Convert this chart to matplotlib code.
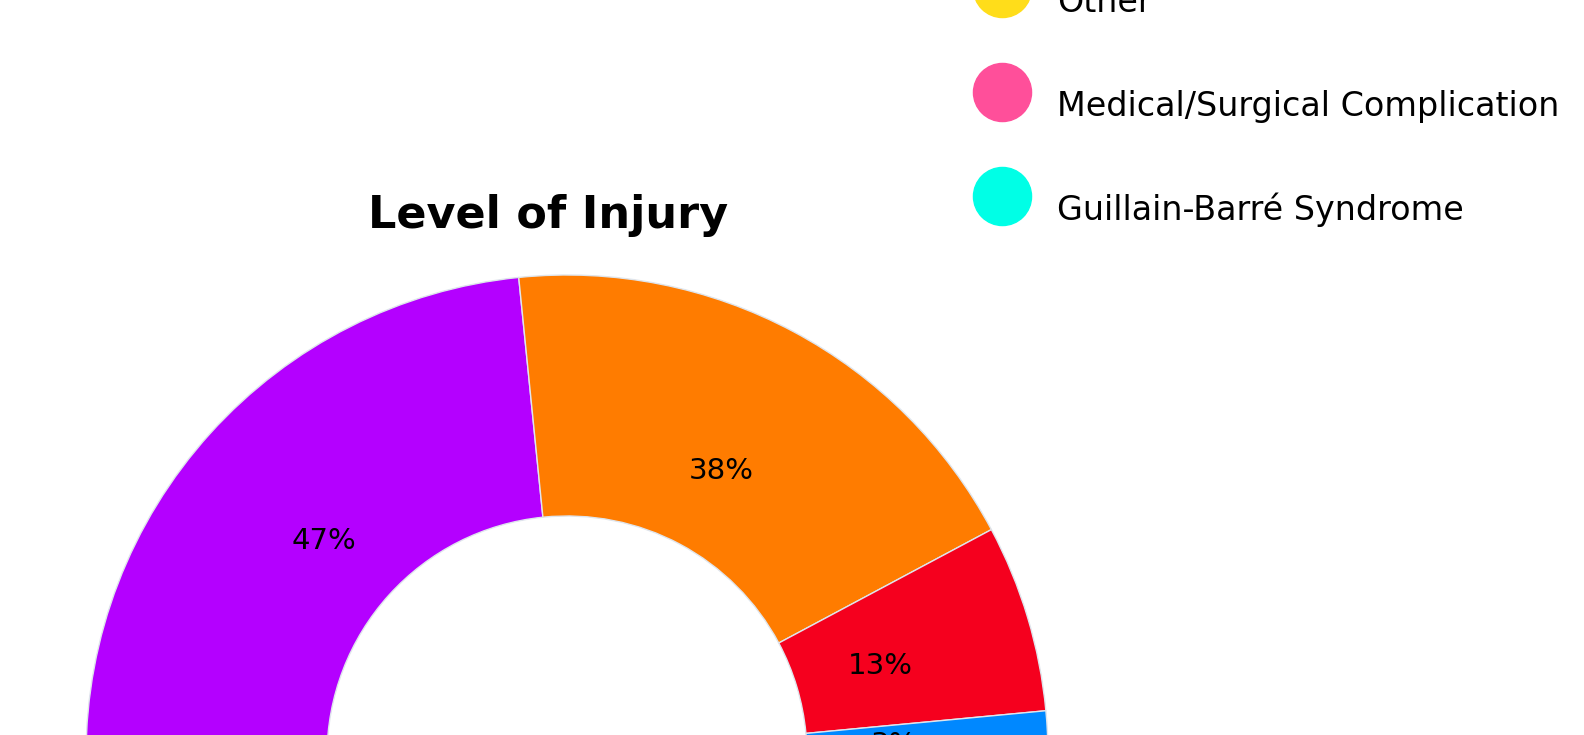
import matplotlib
matplotlib.use('Agg')
import matplotlib.pyplot as plt

# level of injury (semicircle donut), values in percent
levels = ['Level A', 'Level B', 'Level C', 'Level D']
level_values = [46.8, 37.6, 12.6, 3.0]
level_colors = ['#b400ff', '#ff7c00', '#f5001e', '#0088ff']

# legend of the neighbouring chart, partially visible
legend_labels = ['Other', 'Medical/Surgical Complication', 'Guillain-Barré Syndrome']
legend_colors = ['#ffdd1a', '#ff4f9a', '#00ffe6']

W, H = 1584, 735
plt.rcParams['font.family'] = ['DejaVu Sans']
fig = plt.figure(figsize=(W / 100, H / 100), dpi=100)
ax = fig.add_axes([0, 0, 1, 1])

total = sum(level_values)
wedges, texts = ax.pie(
    level_values + [total],
    colors=level_colors + ['none'],
    startangle=180, counterclock=False,
    center=(567, H - 756), radius=481,
    labels=[f'{v:.0f}%' for v in level_values] + [''],
    labeldistance=0.68,
    wedgeprops=dict(width=241, edgecolor='#dfe5ec', linewidth=1),
    textprops=dict(fontsize=21, color='black'),
)
wedges[-1].set_visible(False)
for t in texts:
    t.set_ha('center')
    t.set_va('center')
    x, y = t.get_position()
    t.set_position((x, y - 4))

ax.text(548, H - 215, 'Level of Injury', ha='center', va='center',
        fontsize=32, fontweight='bold')

# legend
for i, (lab, col) in enumerate(zip(legend_labels, legend_colors)):
    yc = H - (-12 + i * 104)
    ax.scatter([1002], [yc], s=58 ** 2 * 0.52, color=col, zorder=3)
    ax.text(1057, yc - 24, lab, ha='left', va='baseline', fontsize=24)

ax.set_xlim(0, W)
ax.set_ylim(0, H)
ax.set_aspect('equal')
ax.axis('off')

fig.savefig('out.png', dpi=100)
